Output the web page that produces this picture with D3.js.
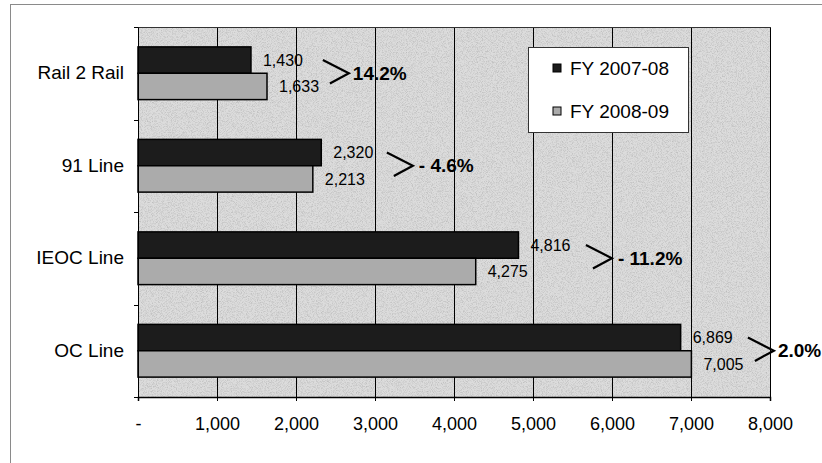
<!DOCTYPE html>
<html>
<head>
<meta charset="utf-8">
<script src="https://cdn.jsdelivr.net/npm/d3@7"></script>
<style>
  html, body { margin: 0; padding: 0; background: #fff; }
  svg { display: block; font-family: "Liberation Sans", Arial, sans-serif; }
</style>
</head>
<body>
<svg id="chart" width="822" height="463"></svg>
<script>
// ---- data ----
const categories = ["Rail 2 Rail", "91 Line", "IEOC Line", "OC Line"];
const seriesNames = ["FY 2007-08", "FY 2008-09"];
const fy0708 = [1430, 2320, 4816, 6869];
const fy0809 = [1633, 2213, 4275, 7005];
const xTickValues = [0, 1000, 2000, 3000, 4000, 5000, 6000, 7000, 8000];
// horizontal position (in data units) of the change annotations
const changeAt = [2340, 3150, 5670, 7720];

// ---- setup ----
const svg = d3.select("#chart");
const plot = { left: 138, right: 770, top: 27, bottom: 397 };
const colors = ["#1c1c1c", "#ababab"];
const plotBg = "#dcdcdc";

const x = d3.scaleLinear().domain([0, 8000]).range([plot.left, plot.right]);
const y0 = d3.scaleBand().domain(categories).range([plot.top, plot.bottom])
  .paddingInner(0.43).paddingOuter(0.215);
const y1 = d3.scaleBand().domain(seriesNames).range([0, y0.bandwidth()]);

const rows = categories.map((c, i) => ({ cat: c, vals: [fy0708[i], fy0809[i]], at: changeAt[i] }));

// noise filter to mimic the halftone texture
const defs = svg.append("defs");
const f = defs.append("filter").attr("id", "grain").attr("x", 0).attr("y", 0)
  .attr("width", "100%").attr("height", "100%");
f.append("feTurbulence").attr("type", "fractalNoise").attr("baseFrequency", 1.2)
  .attr("numOctaves", 1).attr("seed", 3).attr("result", "n");
f.append("feColorMatrix").attr("in", "n").attr("type", "matrix")
  .attr("values", "0 0 0 0 0  0 0 0 0 0  0 0 0 0 0  0 0 0 -2.2 1.25");

// outer frame
svg.append("rect").attr("x", 10.5).attr("y", 4.5).attr("width", 840).attr("height", 480)
  .attr("fill", "none").attr("stroke", "#8a8a8a").attr("stroke-width", 1);

// plot background
svg.append("rect").attr("x", plot.left).attr("y", plot.top)
  .attr("width", plot.right - plot.left).attr("height", plot.bottom - plot.top)
  .attr("fill", plotBg);

// grain overlay on the plot background
svg.append("rect").attr("x", plot.left).attr("y", plot.top)
  .attr("width", plot.right - plot.left).attr("height", plot.bottom - plot.top)
  .attr("filter", "url(#grain)").attr("opacity", 0.16).attr("pointer-events", "none");

// grid lines
svg.append("g").selectAll("line").data(xTickValues.slice(1)).join("line")
  .attr("x1", d => Math.round(x(d)) + 0.5).attr("x2", d => Math.round(x(d)) + 0.5)
  .attr("y1", plot.top).attr("y2", plot.bottom)
  .attr("stroke", "#000").attr("stroke-width", 1);
// top border
svg.append("line").attr("x1", plot.left).attr("x2", plot.right + 1)
  .attr("y1", plot.top + 0.5).attr("y2", plot.top + 0.5)
  .attr("stroke", "#333").attr("stroke-width", 1);

// bars
const groups = svg.append("g").selectAll("g").data(rows).join("g")
  .attr("transform", d => `translate(0,${y0(d.cat)})`);
groups.selectAll("rect").data(d => d.vals.map((v, j) => ({ v, j }))).join("rect")
  .attr("x", x(0))
  .attr("y", d => y1(seriesNames[d.j]))
  .attr("width", d => x(d.v) - x(0))
  .attr("height", y1.bandwidth())
  .attr("fill", d => colors[d.j])
  .attr("stroke", "#000").attr("stroke-width", 1.5);

// value labels
const fmt = d3.format(",");
groups.selectAll("text.val").data(d => d.vals.map((v, j) => ({ v, j }))).join("text")
  .attr("class", "val")
  .attr("x", d => x(d.v) + 12)
  .attr("y", d => y1(seriesNames[d.j]) + y1.bandwidth() / 2)
  .attr("dy", "0.35em")
  .attr("font-size", 16)
  .attr("fill", "#000")
  .text(d => fmt(d.v));

// change annotations
groups.each(function (d) {
  const g = d3.select(this);
  const cx = x(d.at);
  const top = y1(seriesNames[0]) + y1.bandwidth() / 2;
  const bot = y1(seriesNames[1]) + y1.bandwidth() / 2 - 3;
  const mid = y0.bandwidth() / 2;
  g.append("path")
    .attr("d", `M${cx},${top} L${cx + 26},${mid} L${cx + 7},${bot}`)
    .attr("fill", "none").attr("stroke", "#000").attr("stroke-width", 2.2);
  const pct = (d.vals[1] - d.vals[0]) / d.vals[0] * 100;
  const label = pct < 0 ? "- " + Math.abs(pct).toFixed(1) + "%" : pct.toFixed(1) + "%";
  g.append("text")
    .attr("x", cx + (pct < 0 ? 32 : 30))
    .attr("y", mid)
    .attr("dy", "0.35em")
    .attr("font-size", 19).attr("font-weight", "bold")
    .text(label);
});

// y axis
const yAxis = d3.axisLeft(y0).tickSize(0).tickPadding(14);
const gy = svg.append("g").attr("transform", `translate(${plot.left},0)`).call(yAxis);
gy.attr("font-family", null);
gy.select(".domain").attr("stroke", "#000");
gy.selectAll("text").attr("font-size", 19).attr("fill", "#000");
// category boundary ticks
const boundaryY = [plot.top]
  .concat(categories.slice(1).map(c => y0(c) - (y0.step() - y0.bandwidth()) / 2))
  .concat([plot.bottom]);
svg.append("g").selectAll("line").data(boundaryY).join("line")
  .attr("x1", plot.left - 4).attr("x2", plot.left)
  .attr("y1", d => Math.round(d) + 0.5).attr("y2", d => Math.round(d) + 0.5)
  .attr("stroke", "#000");

// x axis
const xAxis = d3.axisBottom(x).tickValues(xTickValues).tickSize(4).tickPadding(16)
  .tickFormat(d => d === 0 ? "-" : fmt(d));
const gx = svg.append("g").attr("transform", `translate(0,${plot.bottom})`).call(xAxis);
gx.attr("font-family", null);
gx.select(".domain").attr("stroke", "#000").attr("stroke-width", 1.5);
gx.selectAll("text").attr("font-size", 18).attr("fill", "#000");

// legend
const lg = svg.append("g").attr("transform", "translate(528,47)");
lg.append("rect").attr("x", 0.5).attr("y", 0.5).attr("width", 160).attr("height", 85)
  .attr("fill", "#fff").attr("stroke", "#333").attr("stroke-width", 1);
seriesNames.forEach((s, i) => {
  const ly = 21 + i * 43;
  lg.append("rect").attr("x", 25).attr("y", ly - 4).attr("width", 8).attr("height", 8)
    .attr("fill", colors[i]).attr("stroke", "#000").attr("stroke-width", 1);
  lg.append("text").attr("x", 42).attr("y", ly).attr("dy", "0.35em")
    .attr("font-size", 19).text(s);
});
</script>
</body>
</html>
